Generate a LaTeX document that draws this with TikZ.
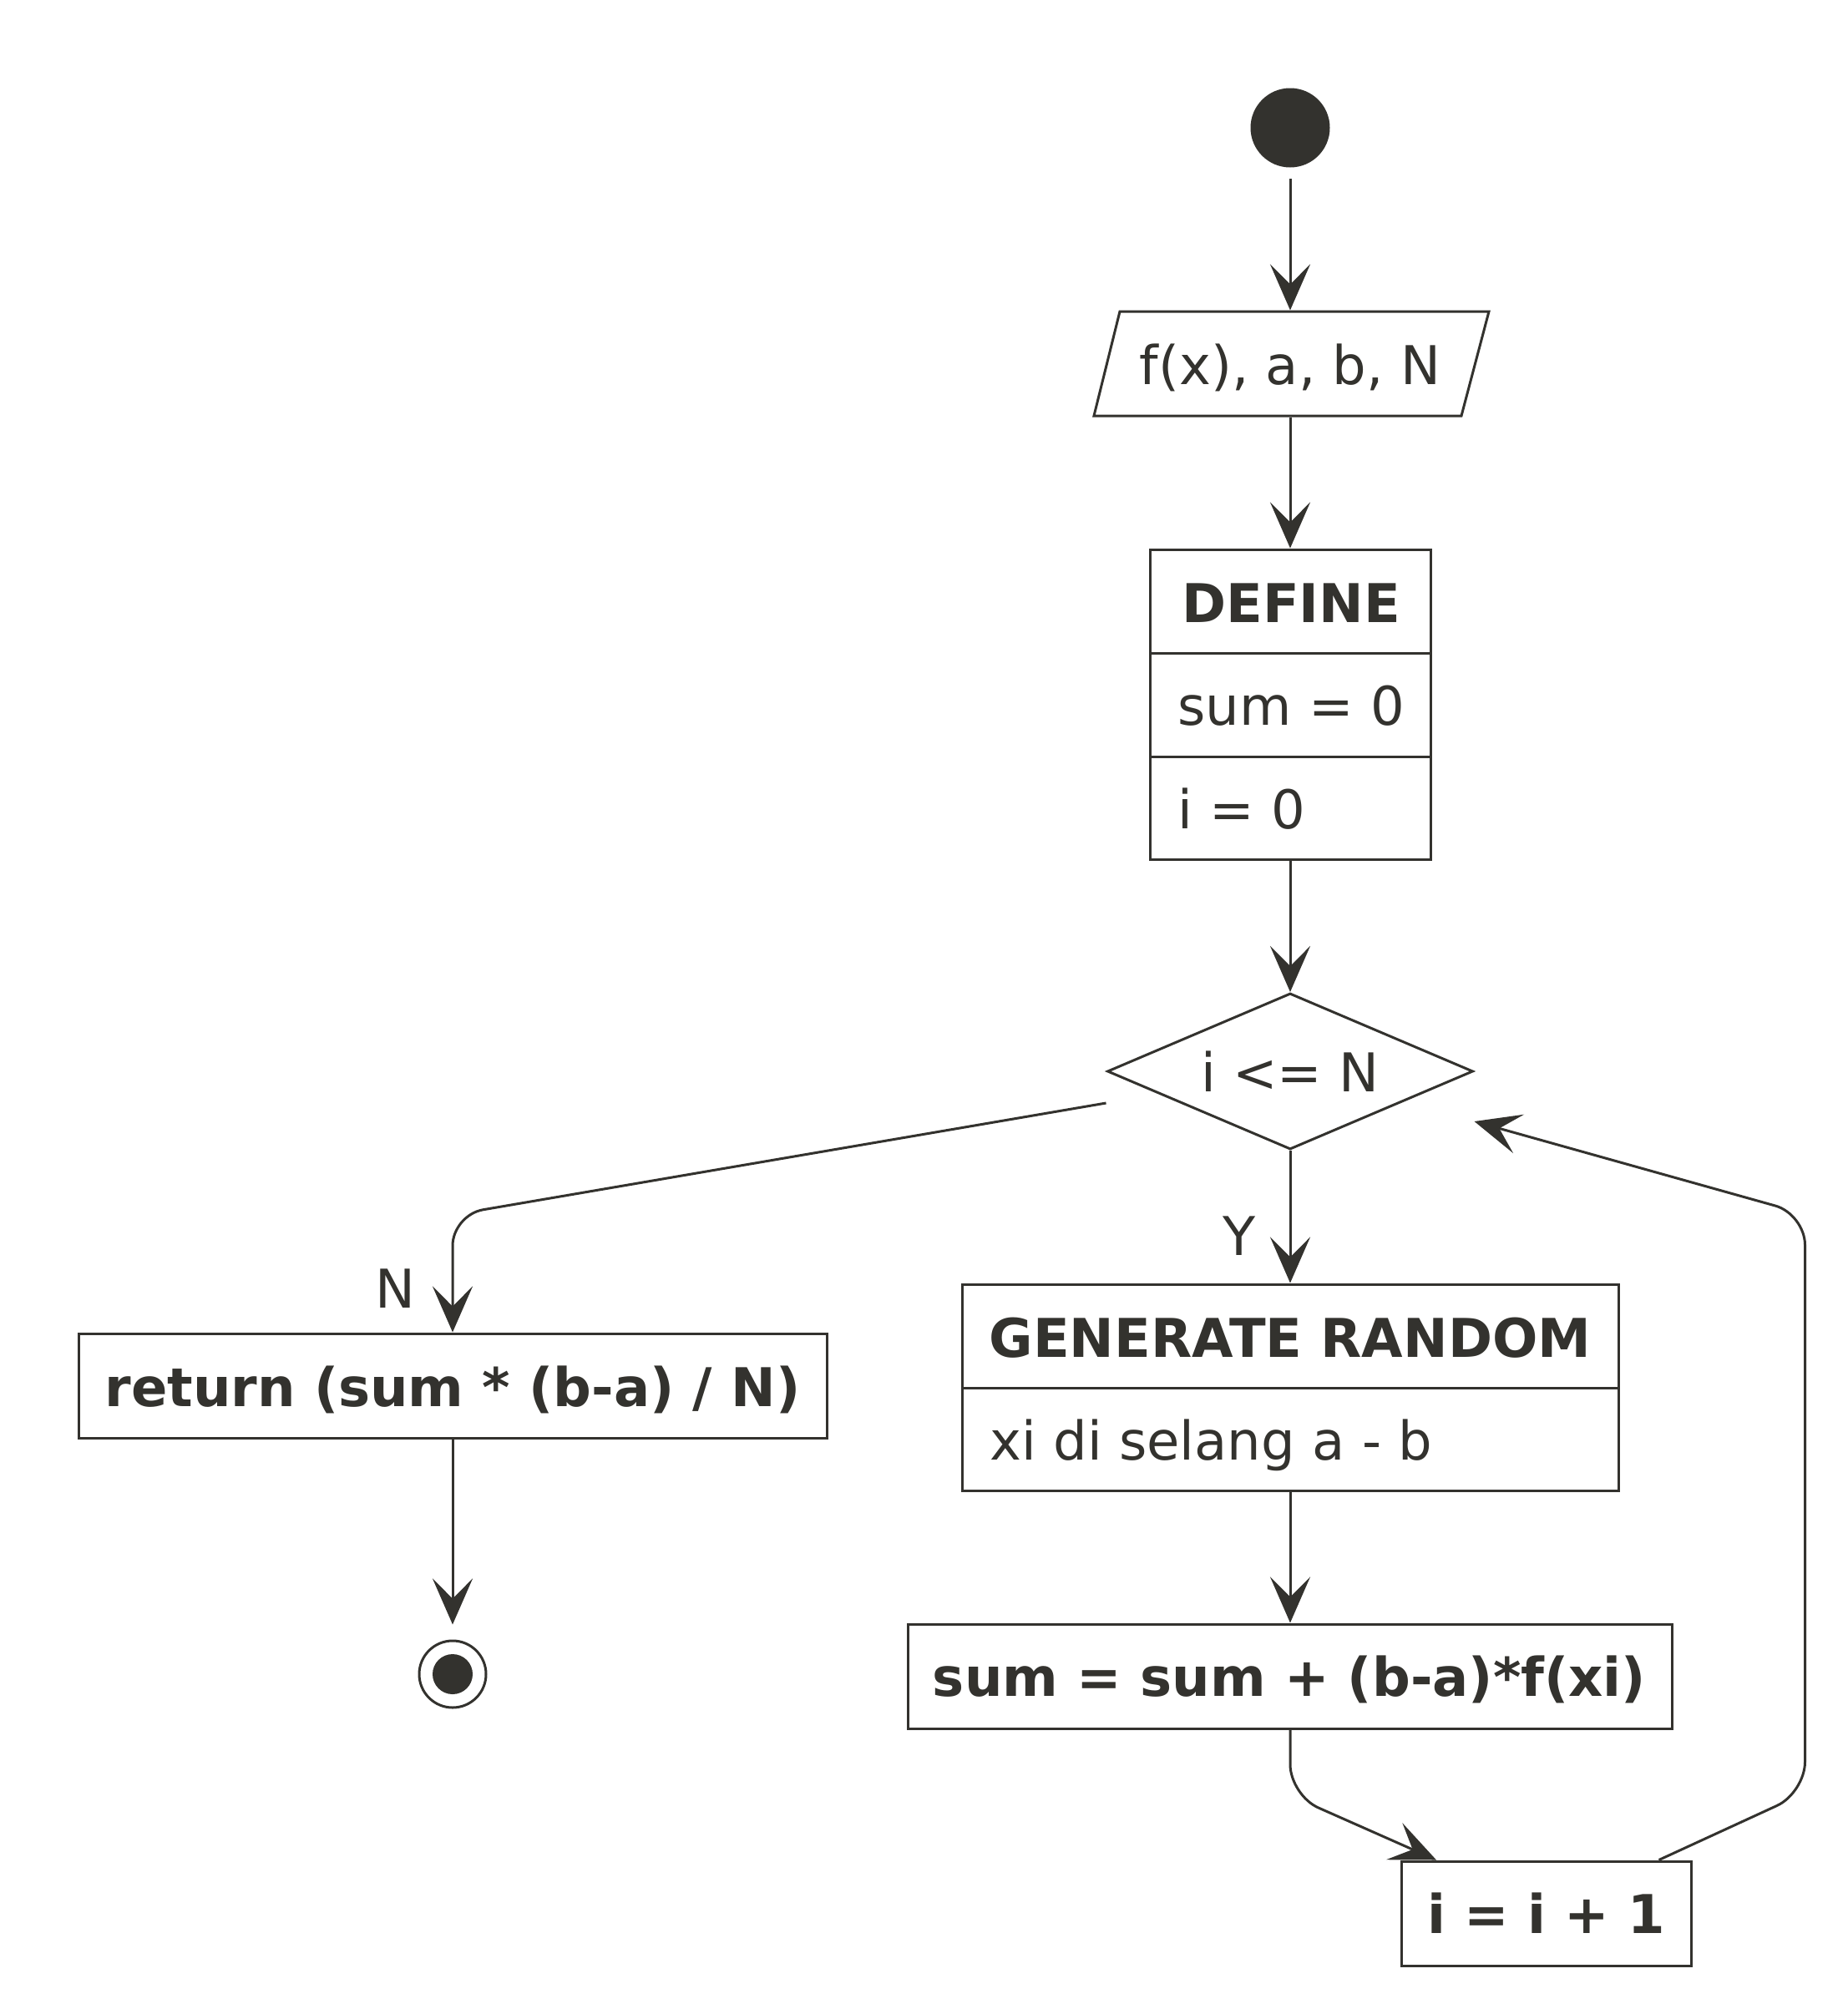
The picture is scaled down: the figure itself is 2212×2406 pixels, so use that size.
\documentclass[tikz,border=0pt]{standalone}
\usepackage{fontspec}
\setmainfont{DejaVu Sans}
\usetikzlibrary{arrows.meta,shapes.geometric}
\definecolor{ink}{RGB}{51,50,46}
\begin{document}
\begin{tikzpicture}[x=1pt,y=-1pt,line width=3pt,color=ink,
  every node/.style={text=ink,font=\fontsize{64}{77}\selectfont},
  box/.style={draw=ink,rectangle,inner sep=0pt},
  txt/.style={inner sep=0pt},
  bld/.style={inner sep=0pt,font=\fontsize{64}{77}\selectfont\bfseries},
  conn/.style={draw=ink,line width=3pt,-{Stealth[length=55pt,width=48pt,inset=24pt]},rounded corners=37pt},
]
\useasboundingbox[fill=white] (0,0) rectangle (2212,2406);

% start
\node[circle,fill=ink,minimum size=95pt,inner sep=0pt] (start) at (1545,153) {};

% input parallelogram
\node[txt,minimum width=400pt,minimum height=125pt] (in) at (1545,435.5) {};
\draw (1341,373) -- (1783,373) -- (1750,498) -- (1310,498) -- cycle;
\node[txt,anchor=base] (intext) at (1545,460) {f(x), a, b, N};

% define box
\node[box,minimum width=336pt,minimum height=371pt] (def) at (1545,843.5) {};
\draw (1377,782) -- (1713,782);
\draw (1377,906) -- (1713,906);
\node[bld,anchor=base] (deft) at (1546,745) {DEFINE};
\node[txt,anchor=base west] (defs) at (1409,868) {sum = 0};
\node[txt,anchor=base west] (defi) at (1409,992) {i = 0};

% decision
\node[diamond,draw=ink,minimum width=438pt,minimum height=187pt,inner sep=0pt] (dia) at (1545,1283) {};
\node[txt,anchor=base] (diat) at (1545,1307) {i <= N};

% generate random
\node[box,minimum width=786pt,minimum height=247pt] (gen) at (1545,1661.5) {};
\draw (1152,1662) -- (1938,1662);
\node[bld,anchor=base] (gent) at (1545,1625) {GENERATE RANDOM};
\node[txt,anchor=base west] (genx) at (1184,1748) {xi di selang a - b};

% sum
\node[box,minimum width=915pt,minimum height=125pt] (sum) at (1545,2007.5) {};
\node[bld,anchor=base] (sumt) at (1544,2031) {sum = sum + (b-a)*f(xi)};

% i = i + 1
\node[box,minimum width=347pt,minimum height=125pt] (inc) at (1851.5,2291.5) {};
\node[bld,anchor=base] (inct) at (1851.5,2315) {i = i + 1};

% return
\node[box,minimum width=896pt,minimum height=125pt] (ret) at (542,1659.5) {};
\node[bld,anchor=base] (rett) at (542,1684) {return (sum * (b-a) / N)};

% end
\node[circle,draw=ink,minimum size=80pt,inner sep=0pt] (end) at (542,2005) {};
\node[circle,fill=ink,minimum size=48pt,inner sep=0pt] (endin) at (end) {};

% bend coordinates
\coordinate (bN) at (542,1455);
\coordinate (bS) at (1545,2150);
\coordinate (bR1) at (2161.5,2147);
\coordinate (bR2) at (2161.5,1454);

% connectors
\draw[conn,shorten <=12pt] (start) -- (in.north);
\draw[conn] (in.south) -- (def.north);
\draw[conn] (def.south) -- (dia.north);
\draw[conn] (dia.south) -- (gen.north);
\node[txt,anchor=base east] (ylab) at (1505,1503) {Y};
\draw[conn] ([yshift=-38pt]dia.west) -- (bN) -- (ret.north);
\node[txt,anchor=base east] (nlab) at (499,1566) {N};
\draw[conn] (gen.south) -- (sum.north);
\draw[conn] (sum.south) -- (bS) -- ([xshift=-131.5pt]inc.north);
\draw[conn] ([xshift=135pt]inc.north) -- (bR1) -- (bR2) -- ([yshift=-60pt]dia.east);
\draw[conn,shorten >=18pt] (ret.south) -- (end.north);
\end{tikzpicture}
\end{document}
